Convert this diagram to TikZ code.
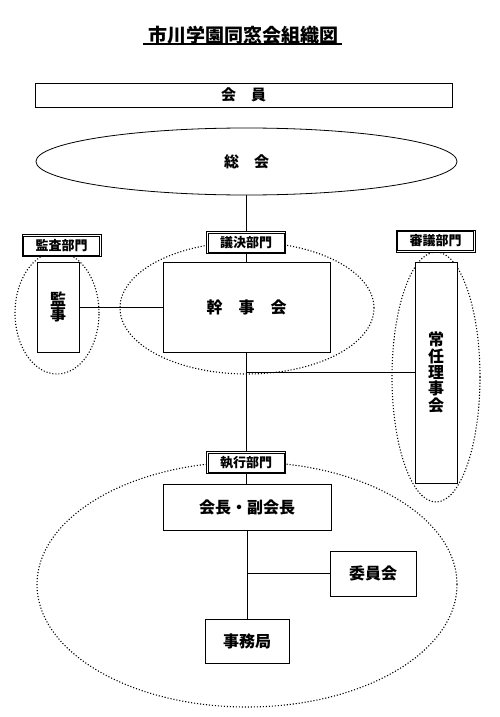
\documentclass[tikz,border=0pt]{standalone}
\usepackage{fontspec}
\setmainfont{Noto Sans CJK JP}
\usetikzlibrary{shapes.geometric,backgrounds}
\begin{document}
\begin{tikzpicture}[x=1pt,y=-1pt,
  box/.style={draw,line width=0.8pt,fill=white,inner sep=0pt},
  tag/.style={draw,line width=0.9pt,fill=white,
    minimum width=79pt,minimum height=22pt,inner sep=0pt,
    font=\fontsize{13}{13}\selectfont\bfseries},
  taginner/.style={draw,line width=0.6pt},
  grp/.style={draw,line width=1.1pt,dash pattern=on 1.1pt off 1.9pt},
  conn/.style={line width=0.8pt},
  lbl/.style={font=\fontsize{16}{16}\selectfont\bfseries}]
\useasboundingbox (0,0) rectangle (500,717);

% title
\node[font=\fontsize{19}{19}\selectfont\bfseries] (title) at (243,35) {市川学園同窓会組織図};
\coordinate (ulL) at (143,44);
\coordinate (ulR) at (342,44);
\draw[line width=1.3pt] (ulL) -- (ulR);

% members and general meeting
\node[box,minimum width=417pt,minimum height=24pt,font=\fontsize{15}{15}\selectfont\bfseries] (member) at (243.5,95) {会　員};
\node[draw,ellipse,line width=0.8pt,fill=white,minimum width=421pt,minimum height=67pt,inner sep=0pt,
  font=\fontsize{15}{15}\selectfont\bfseries] (sokai) at (246.5,161.5) {総　会};

% boxes
\node[box,minimum width=42pt,minimum height=90pt,align=center,
  font=\fontsize{16}{15.5}\selectfont\bfseries] (kanji) at (58,307) {監\\事};
\node[box,lbl,minimum width=167pt,minimum height=90pt] (kanjikai) at (246.5,307) {幹　事　会};
\node[box,minimum width=42pt,minimum height=221pt,align=center,
  font=\fontsize{16}{16.4}\selectfont\bfseries] (jonin) at (436,372.5) {常\\任\\理\\事\\会};
\node[box,lbl,minimum width=168pt,minimum height=46pt] (kaicho) at (247,507) {会長・副会長};
\node[box,lbl,minimum width=86pt,minimum height=45pt] (iinkai) at (373,573.5) {委員会};
\node[box,lbl,minimum width=84pt,minimum height=44pt] (jimu) at (247,641) {事務局};

% group tags (double frame)
\node[tag] (tkansa) at (61.5,245.5) {監査部門};
\node[tag] (tgiketsu) at (246,242.5) {議決部門};
\node[tag] (tshingi) at (435.5,241) {審議部門};
\node[tag] (tshikko) at (246,462.5) {執行部門};
\foreach \t in {tkansa,tgiketsu,tshingi,tshikko}{
  \draw[taginner] ([shift={(1.8pt,-1.8pt)}]\t.north west) rectangle ([shift={(-1.8pt,1.8pt)}]\t.south east);
}

\begin{scope}[on background layer]
  % dotted groups
  \node[grp,ellipse,minimum width=84pt,minimum height=122pt] (g1) at (57,313) {};
  \node[grp,ellipse,minimum width=254pt,minimum height=132pt] (g2) at (247,308) {};
  \node[grp,ellipse,minimum width=88pt,minimum height=250pt] (g3) at (436,377) {};
  \node[grp,ellipse,minimum width=420pt,minimum height=245pt] (g4) at (247,584.5) {};
  % connectors
  \draw[conn] (sokai.south) -- (sokai.south |- kanjikai.north);
  \draw[conn] (kanji.east) -- (kanjikai.west);
  \draw[conn] (kanjikai.south) -- (kanjikai.south |- kaicho.north);
  \draw[conn] (kanjikai.south |- jonin.west) -- (jonin.west);
  \draw[conn] (kaicho.south) -- (kaicho.south |- jimu.north);
  \draw[conn] (kaicho.south |- iinkai.west) -- (iinkai.west);
\end{scope}
\end{tikzpicture}
\end{document}
